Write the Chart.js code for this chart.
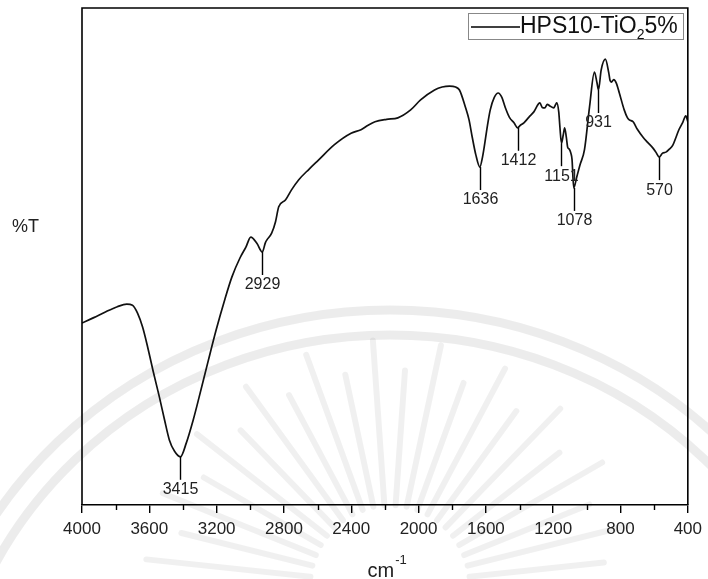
<!DOCTYPE html>
<html>
<head>
<meta charset="utf-8">
<script src="https://cdn.jsdelivr.net/npm/chart.js@4/dist/chart.umd.min.js"></script>
<style>
  body { margin: 0; background: #fff; }
  #wrap { width: 708px; height: 579px; position: relative; }
</style>
</head>
<body>
<div id="wrap"><canvas id="ftirChart"></canvas></div>
<script>
const wavenumbers = [
    4000, 3930, 3864, 3790, 3734, 3700, 3670, 3640, 3610, 3575, 3540, 3510, 3481, 3450, 3415,
    3380, 3340, 3304, 3250, 3203, 3150, 3109, 3060, 3026, 2997, 2960, 2929, 2910, 2902, 2873,
    2850, 2831, 2790, 2755, 2713, 2650, 2595, 2500, 2401, 2342, 2300, 2259, 2190, 2123, 2047,
    1988, 1905, 1860, 1816, 1780, 1757, 1722, 1700, 1681, 1660, 1636, 1620, 1610, 1590, 1574,
    1550, 1527, 1505, 1486, 1460, 1433, 1412, 1395, 1374, 1345, 1315, 1279, 1265, 1250, 1235,
    1220, 1197, 1185, 1179, 1167, 1160, 1151, 1140, 1132, 1122, 1114, 1104, 1095, 1088, 1078,
    1060, 1040, 1014, 984, 955, 940, 931, 915, 890, 870, 862, 854, 840, 825, 807,
    778, 760, 748, 725, 700, 666, 640, 607, 590, 570, 550, 530, 510, 489, 470,
    453, 430, 412, 400
];
const transmittance = [
    36.6, 37.7, 38.8, 39.9, 40.4, 40.2, 38.6, 35.8, 31.8, 26.6, 21.7, 17.2, 13.1, 10.8, 9.7,
    12.5, 17.0, 21.7, 29.0, 35.2, 41.5, 45.9, 49.8, 51.9, 53.9, 52.6, 50.9, 52.8, 53.3, 54.7,
    57.0, 60.0, 61.4, 63.4, 65.4, 67.6, 69.4, 72.5, 74.8, 75.5, 76.4, 77.1, 77.6, 77.9, 79.5,
    81.5, 83.5, 84.1, 84.3, 84.1, 83.5, 80.1, 77.5, 74.0, 70.5, 68.0, 70.0, 72.0, 76.5, 79.5,
    82.0, 82.9, 82.0, 80.1, 78.0, 76.9, 75.9, 76.4, 76.9, 78.0, 79.1, 80.9, 80.0, 79.9, 80.6,
    80.3, 79.9, 80.6, 80.9, 79.1, 76.0, 72.8, 74.5, 75.9, 74.0, 72.0, 71.6, 70.8, 69.5, 63.8,
    66.0, 68.5, 71.5, 80.1, 87.1, 85.0, 83.5, 87.5, 89.7, 87.0, 85.4, 85.1, 85.6, 84.9, 82.9,
    79.5, 78.0, 77.5, 77.1, 75.6, 74.0, 73.0, 71.8, 71.0, 70.0, 70.8, 71.0, 71.6, 72.4, 74.0,
    75.5, 77.0, 78.3, 77.1
];

// labelled absorption bands
const peakWavenumbers = [3415, 2929, 1636, 1412, 1151, 1078, 931, 570];
const peakLabels = ['3415', '2929', '1636', '1412', '1151', '1078', '931', '570'];

const seriesName = 'HPS10-TiO';
const FONT = "'Liberation Sans', Arial, sans-serif";

// faint university seal behind the plot
function drawSeal(ctx) {
    ctx.save();
    ctx.lineCap = 'round';
    ctx.strokeStyle = 'rgba(0,0,0,0.075)';
    ctx.lineWidth = 9;
    ctx.beginPath();
    ctx.ellipse(390, 760, 470, 450, 0, Math.PI, 2 * Math.PI);
    ctx.stroke();
    ctx.beginPath();
    ctx.ellipse(390, 760, 445, 425, 0, Math.PI, 2 * Math.PI);
    ctx.stroke();
    ctx.strokeStyle = 'rgba(0,0,0,0.06)';
    ctx.lineWidth = 6;
    let k = 0;
    for (let a = 186; a <= 354; a += 8) {
        const r = a * Math.PI / 180;
        const outer = k % 2 ? 215 : 245;
        ctx.beginPath();
        ctx.moveTo(390 + Math.cos(r) * 80, 585 + Math.sin(r) * 80);
        ctx.lineTo(390 + Math.cos(r) * outer, 585 + Math.sin(r) * outer);
        ctx.stroke();
        k++;
    }
    ctx.restore();
}

const decorations = {
    id: 'decorations',
    beforeDraw(chart) {
        drawSeal(chart.ctx);
    },
    afterDraw(chart) {
        const ctx = chart.ctx;
        const area = chart.chartArea;
        const xs = chart.scales.x;
        const ys = chart.scales.y;

        ctx.save();
        // frame (left, top, right)
        ctx.strokeStyle = '#000';
        ctx.lineWidth = 1.6;
        ctx.beginPath();
        ctx.moveTo(area.left, area.bottom);
        ctx.lineTo(area.left, area.top);
        ctx.lineTo(area.right, area.top);
        ctx.lineTo(area.right, area.bottom);
        ctx.stroke();

        // minor ticks
        ctx.lineWidth = 1.4;
        for (let v = 600; v < 4000; v += 400) {
            const px = Math.round(xs.getPixelForValue(v)) + 0.5;
            ctx.beginPath();
            ctx.moveTo(px, area.bottom);
            ctx.lineTo(px, area.bottom + 5);
            ctx.stroke();
        }

        // band markers
        ctx.fillStyle = '#222';
        ctx.font = '16px ' + FONT;
        ctx.textAlign = 'center';
        ctx.textBaseline = 'middle';
        ctx.lineWidth = 1.4;
        peakWavenumbers.forEach((wn, i) => {
            const t = transmittance[wavenumbers.indexOf(wn)];
            const px = Math.round(xs.getPixelForValue(wn)) + 0.5;
            const py = ys.getPixelForValue(t);
            ctx.beginPath();
            ctx.moveTo(px, py);
            ctx.lineTo(px, py + 23);
            ctx.stroke();
            ctx.fillText(peakLabels[i], px, py + 33);
        });

        // axis titles
        ctx.textAlign = 'left';
        ctx.font = '18px ' + FONT;
        ctx.fillText('%T', 12, 227);
        ctx.font = '20px ' + FONT;
        const cmW = ctx.measureText('cm').width;
        const cx = (area.left + area.right) / 2 - cmW / 2 - 4;
        ctx.fillText('cm', cx, 571);
        ctx.font = '13px ' + FONT;
        ctx.fillText('-1', cx + cmW + 1, 560);

        // legend box
        ctx.strokeStyle = '#888';
        ctx.lineWidth = 1;
        ctx.strokeRect(468.5, 13.5, 215, 26);
        ctx.strokeStyle = '#000';
        ctx.lineWidth = 1.6;
        ctx.beginPath();
        ctx.moveTo(471, 27);
        ctx.lineTo(520, 27);
        ctx.stroke();
        ctx.fillStyle = '#111';
        ctx.font = '23px ' + FONT;
        let tx = 520;
        ctx.fillText(seriesName, tx, 27);
        tx += ctx.measureText(seriesName).width;
        ctx.font = '14px ' + FONT;
        ctx.fillText('2', tx, 35);
        tx += ctx.measureText('2').width;
        ctx.font = '23px ' + FONT;
        ctx.fillText('5%', tx, 27);
        ctx.restore();
    }
};

const ctx = document.getElementById('ftirChart').getContext('2d');
new Chart(ctx, {
    type: 'line',
    data: {
        datasets: [{
            label: seriesName + '25%',
            data: wavenumbers.map((w, i) => ({ x: w, y: transmittance[i] })),
            borderColor: '#111',
            borderWidth: 1.7,
            pointRadius: 0,
            cubicInterpolationMode: 'monotone',
            fill: false
        }]
    },
    options: {
        responsive: true,
        maintainAspectRatio: false,
        animation: false,
        layout: {
            padding: { left: 82, right: 16, top: 8, bottom: 0 }
        },
        plugins: {
            legend: { display: false },
            tooltip: { enabled: false }
        },
        scales: {
            x: {
                type: 'linear',
                reverse: true,
                min: 400,
                max: 4000,
                afterFit(scale) { scale.height = 74; },
                ticks: {
                    stepSize: 400,
                    color: '#222',
                    padding: 6,
                    maxRotation: 0,
                    font: { family: FONT, size: 17 },
                    callback: (v) => String(v)
                },
                grid: {
                    drawOnChartArea: false,
                    drawTicks: true,
                    tickLength: 8,
                    color: '#000',
                    lineWidth: 1.4
                },
                border: { display: true, color: '#000', width: 1.6 }
            },
            y: {
                display: false,
                min: 0,
                max: 100
            }
        }
    },
    plugins: [decorations]
});
</script>
</body>
</html>
